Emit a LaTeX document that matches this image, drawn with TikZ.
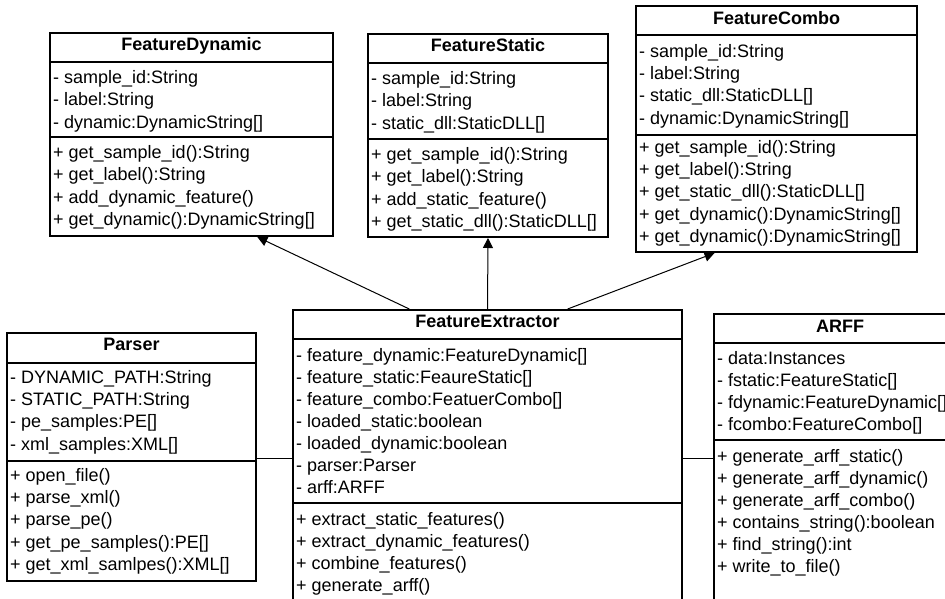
\documentclass[tikz,border=0pt]{standalone}
\usepackage{fontspec}
\setmainfont{Liberation Sans}
\usetikzlibrary{arrows.meta,fit,calc}

% A class box: name, left, top, right, bottom, title separator, attribute separator
\newcommand{\umlbox}[7]{%
  \node[classbox, fit={(#2,#3) (#4,#5)}] (#1) {};
  \draw[sepline] (#2,#6) -- (#4,#6);
  \draw[sepline] (#2,#7) -- (#4,#7);
}
% Member lines of a class: prefix, x, first y, step, list of texts
\newcommand{\umlrows}[5]{%
  \foreach \txt [count=\i from 0] in {#5}
    \node[member] (#1\i) at (#2, #3+\i*#4) {\txt};
}

\begin{document}
\begin{tikzpicture}[x=1pt, y=-1pt,
  classbox/.style={draw, line width=2pt, inner sep=0pt},
  sepline/.style={line width=2pt},
  member/.style={anchor=mid west, inner sep=0pt, font=\fontsize{18}{22}\selectfont},
  classname/.style={anchor=mid, inner sep=0pt, font=\fontsize{18}{22}\selectfont\bfseries},
  inherit/.style={line width=1pt, -{Triangle[length=10pt, width=10pt]}},
  assoc/.style={line width=1pt}]
\useasboundingbox (0,0) rectangle (945,599);
\clip (0,0) rectangle (945,599);
\fill[white] (0,0) rectangle (945,599);

% FeatureDynamic
\umlbox{fd}{50}{33}{333}{236}{62}{137}
\node[classname] (fd-title) at (191.5,48) {FeatureDynamic};
\umlrows{fd-a}{53}{80.5}{22.5}{{- sample\_id:String},{- label:String},{- dynamic:DynamicString[]}}
\umlrows{fd-m}{53}{155.5}{22.5}{{+ get\_sample\_id():String},{+ get\_label():String},{+ add\_dynamic\_feature()},{+ get\_dynamic():DynamicString[]}}

% FeatureStatic
\umlbox{fs}{368}{34}{608}{237}{63}{139}
\node[classname] (fs-title) at (488,49) {FeatureStatic};
\umlrows{fs-a}{371}{81.5}{22.5}{{- sample\_id:String},{- label:String},{- static\_dll:StaticDLL[]}}
\umlrows{fs-m}{371}{157.5}{22.5}{{+ get\_sample\_id():String},{+ get\_label():String},{+ add\_static\_feature()},{+ get\_static\_dll():StaticDLL[]}}

% FeatureCombo
\umlbox{fc}{636}{6}{917}{252}{35}{135}
\node[classname] (fc-title) at (776.5,21.5) {FeatureCombo};
\umlrows{fc-a}{639}{54.5}{22.3}{{- sample\_id:String},{- label:String},{- static\_dll:StaticDLL[]},{- dynamic:DynamicString[]}}
\umlrows{fc-m}{639}{150.5}{22.3}{{+ get\_sample\_id():String},{+ get\_label():String},{+ get\_static\_dll():StaticDLL[]},{+ get\_dynamic():DynamicString[]},{+ get\_dynamic():DynamicString[]}}

% Parser
\umlbox{ps}{7}{333}{256}{581}{363}{461}
\node[classname] (ps-title) at (131.5,348) {Parser};
\umlrows{ps-a}{10}{380.5}{22.3}{{- DYNAMIC\_PATH:String},{- STATIC\_PATH:String},{- pe\_samples:PE[]},{- xml\_samples:XML[]}}
\umlrows{ps-m}{10}{478.5}{22.3}{{+ open\_file()},{+ parse\_xml()},{+ parse\_pe()},{+ get\_pe\_samples():PE[]},{+ get\_xml\_samlpes():XML[]}}

% FeatureExtractor
\umlbox{fe}{293}{310}{682}{640}{339}{503}
\node[classname] (fe-title) at (487.5,325) {FeatureExtractor};
\umlrows{fe-a}{296}{358.5}{22}{{- feature\_dynamic:FeatureDynamic[]},{- feature\_static:FeaureStatic[]},{- feature\_combo:FeatuerCombo[]},{- loaded\_static:boolean},{- loaded\_dynamic:boolean},{- parser:Parser},{- arff:ARFF}}
\umlrows{fe-m}{296}{522.5}{22}{{+ extract\_static\_features()},{+ extract\_dynamic\_features()},{+ combine\_features()},{+ generate\_arff()}}

% ARFF
\umlbox{ar}{714}{314}{966}{640}{343}{440}
\node[classname] (ar-title) at (840,329.5) {ARFF};
\umlrows{ar-a}{717}{361.5}{22}{{- data:Instances},{- fstatic:FeatureStatic[]},{- fdynamic:FeatureDynamic[]},{- fcombo:FeatureCombo[]}}
\umlrows{ar-m}{717}{459.5}{22}{{+ generate\_arff\_static()},{+ generate\_arff\_dynamic()},{+ generate\_arff\_combo()},{+ contains\_string():boolean},{+ find\_string():int},{+ write\_to\_file()}}

% Generalisations from the extractor to the feature classes
\draw[inherit] ($(fe.north west)!0.30!(fe.north east)$) -- ($(fd.south west)!0.731!(fd.south east)$);
\draw[inherit] (fe.north) -- (fs.south);
\draw[inherit] ($(fe.north west)!0.705!(fe.north east)$) -- ($(fc.south west)!0.281!(fc.south east)$);

% Associations with the parser and the ARFF writer
\coordinate (assoc-y) at (0,458);
\draw[assoc] (ps.east |- assoc-y) -- (fe.west |- assoc-y);
\draw[assoc] (fe.east |- assoc-y) -- (ar.west |- assoc-y);
\end{tikzpicture}
\end{document}
